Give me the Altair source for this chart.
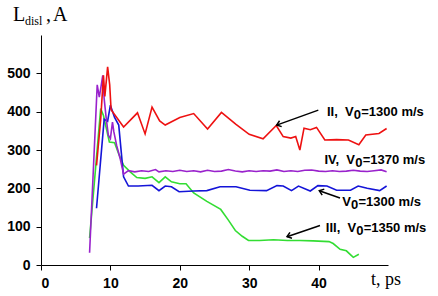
import math
import altair as alt
import pandas as pd

W, H = 347, 230
XMAX, YMAX = 50, 600

# ---- data ----
red_t = [8.0, 8.6, 9.0, 9.2, 9.6, 9.9, 10.1, 11.9, 13.9, 15.0, 16.0, 17.1, 17.9, 20.0, 22.0, 24.0, 26.0,
         28.1, 30.0, 32.0, 33.9, 34.9, 36.0, 36.7, 37.3, 37.9, 38.8, 39.7, 40.9, 42.6, 44.3, 45.8, 46.8, 48.7, 49.8]
red_L = [260, 380, 495, 440, 517, 470, 405, 360, 397, 342, 412, 376, 365, 385, 395, 355, 398,
         367, 341, 329, 364, 335, 331, 335, 300, 357, 353, 359, 326, 327, 326, 314, 339, 343, 356]

purple_t = [7.0, 8.1, 8.4, 8.6, 8.9, 9.1, 9.4, 9.7, 10.0, 10.3, 10.5, 10.9, 11.4, 11.9, 12.6, 13.5, 14.5,
            15.5, 16.5, 17.0, 18.0, 19.0, 20.0, 21.0, 22.0, 23.0, 24.0, 25.0, 26.0, 27.0, 28.0, 29.0, 30.0,
            31.0, 32.0, 33.0, 34.0, 35.0, 36.0, 37.0, 38.0, 39.0, 40.0, 41.0, 42.0, 43.0, 44.0, 45.0, 46.0,
            47.0, 48.0, 49.0, 49.8]
purple_L = [32, 470, 438, 460, 495, 434, 382, 339, 330, 373, 347, 312, 278, 237, 246, 243, 246,
            244, 249, 243, 246, 244, 247, 244, 246, 243, 247, 244, 245, 249, 245, 243, 246,
            244, 246, 245, 248, 244, 246, 244, 247, 248, 245, 244, 246, 244, 245, 247, 245,
            244, 246, 248, 243]

blue_t = [8.0, 9.1, 9.6, 10.0, 10.6, 11.2, 11.9, 12.6, 14.0, 16.0, 17.0, 17.9, 18.8, 19.9, 22.0, 23.9,
          25.8, 28.1, 30.1, 32.5, 34.0, 34.9, 36.1, 37.1, 38.8, 39.9, 41.2, 42.6, 44.6, 45.7, 47.0, 48.8, 49.8]
blue_L = [148, 380, 375, 417, 385, 365, 230, 206, 206, 208, 194, 206, 204, 191, 193, 194,
          204, 204, 195, 194, 207, 206, 194, 206, 193, 207, 206, 195, 195, 206, 200, 194, 206]

green_t = [7.0, 8.6, 9.0, 9.85, 10.6, 11.2, 11.9, 12.85, 13.8, 15.0, 16.0, 17.0, 17.9, 18.8, 20.0, 20.9,
           22.0, 23.9, 25.9, 27.0, 28.0, 29.0, 29.9, 31.5, 33.5, 35.5, 37.3, 39.2, 41.5, 42.1, 43.1, 44.0,
           44.7, 45.0, 45.8]
green_L = [70, 408, 390, 321, 319, 290, 260, 243, 228, 226, 230, 215, 230, 217, 212, 212,
           188, 166, 145, 117, 90, 75, 64, 64, 66, 64, 64, 63, 61, 56, 41, 37,
           25, 20, 28]

series_names = ["III", "V0", "IV", "II"]
series_colors = ["#33dd33", "#1414d8", "#9922cc", "#ee1111"]
series_t = [green_t, blue_t, purple_t, red_t]
series_L = [green_L, blue_L, purple_L, red_L]

# annotation labels: prefix, anchor t of the subscript "0", baseline L, suffix
label_prefix = ["II,\u00a0\u00a0V", "IV,\u00a0\u00a0V", "V", "III,\u00a0\u00a0V"]
label_suffix = ["=1300 m/s", "=1370 m/s", "=1300 m/s", "=1350 m/s"]
label_t = [45.6, 45.8, 45.2, 45.96]
label_L = [388.7, 263.5, 154.0, 86.9]

# arrows: tail -> tip
arrow_t1 = [39.96, 43.08, 40.2]
arrow_L1 = [404.0, 174.8, 103.0]
arrow_t2 = [33.96, 40.1, 35.45]
arrow_L2 = [365.0, 193.8, 73.8]

x_ticks = [0, 10, 20, 30, 40]
y_ticks = [0, 100, 200, 300, 400, 500]

# ---- build ----
xs = alt.Scale(domain=[0, XMAX], nice=False, zero=False)
ys = alt.Scale(domain=[0, YMAX], nice=False, zero=False)
x_axis = alt.Axis(values=x_ticks, title=None, grid=False, labelPadding=6)
y_axis = alt.Axis(values=y_ticks, title=None, grid=False, labelPadding=6)


def X(field):
    return alt.X(field, type="quantitative", scale=xs, axis=x_axis)


def Y(field):
    return alt.Y(field, type="quantitative", scale=ys, axis=y_axis)


layers = []
for name, col, ts, ls in zip(series_names, series_colors, series_t, series_L):
    d = pd.DataFrame({"t": ts, "L": ls, "o": list(range(len(ts)))})
    layers.append(
        alt.Chart(d).mark_line(color=col, strokeWidth=1.6).encode(
            x=X("t"), y=Y("L"), order="o:Q"
        )
    )

arr = pd.DataFrame({"t1": arrow_t1, "L1": arrow_L1, "t2": arrow_t2, "L2": arrow_L2})
angs = []
for a, b, c, d in zip(arrow_t1, arrow_L1, arrow_t2, arrow_L2):
    dx = (c - a) * W / XMAX
    dy = -(d - b) * H / YMAX
    angs.append(math.degrees(math.atan2(dy, dx)) % 360)
arr["ang"] = angs

layers.append(
    alt.Chart(arr).mark_rule(color="black", strokeWidth=1.5).encode(
        x=X("t1"), y=Y("L1"), x2="t2", y2="L2"
    )
)
layers.append(
    alt.Chart(arr).mark_point(
        shape="M-1,-0.75L0,0L-1,0.75", filled=False, stroke="black",
        strokeWidth=1.5, size=70, opacity=1
    ).encode(x=X("t2"), y=Y("L2"), angle=alt.Angle("ang:Q", scale=None))
)

lab = pd.DataFrame({"pre": label_prefix, "suf": label_suffix, "t": label_t, "L": label_L})
font = "Liberation Sans"
fs = 13
layers.append(
    alt.Chart(lab).mark_text(font=font, fontSize=fs, fontWeight="bold", align="right",
                             baseline="alphabetic", dx=-3.8, color="black").encode(
        x=X("t"), y=Y("L"), text="pre:N")
)
layers.append(
    alt.Chart(lab).mark_text(font=font, fontSize=fs, fontWeight="bold", align="center",
                             baseline="alphabetic", dy=3, color="black").encode(
        x=X("t"), y=Y("L"), text=alt.value("0"))
)
layers.append(
    alt.Chart(lab).mark_text(font=font, fontSize=fs, fontWeight="bold", align="left",
                             baseline="alphabetic", dx=3.8, color="black").encode(
        x=X("t"), y=Y("L"), text="suf:N")
)

# axis titles (serif) placed in pixel space
serif = "Liberation Serif"
title_df = pd.DataFrame({"a": [0]})


def ttext(txt, px, py, size, align="left"):
    return alt.Chart(title_df).mark_text(font=serif, fontSize=size, align=align,
                                          baseline="alphabetic", color="black").encode(
        x=alt.value(px), y=alt.value(py), text=alt.value(txt))


layers += [
    ttext("L", -28, -14, 20),
    ttext("disl", -16, -10.5, 12),
    ttext(",", 5, -14, 20),
    ttext("A", 12, -14, 20),
    ttext("t, ps", 330, 250, 18),
]

chart = alt.layer(*layers).properties(
    width=W, height=H,
    autosize=alt.AutoSizeParams(type="none"),
    padding={"left": 41, "top": 35, "right": 50, "bottom": 31},
    background="white",
).configure_view(strokeWidth=0).configure_axis(
    domainColor="black", tickColor="black", labelColor="black", tickSize=5,
    labelFont=font, labelFontSize=14, labelFontWeight="bold", domainWidth=1, tickWidth=1,
)

chart.save("out.html", embed_options={"renderer": "svg", "actions": False})
